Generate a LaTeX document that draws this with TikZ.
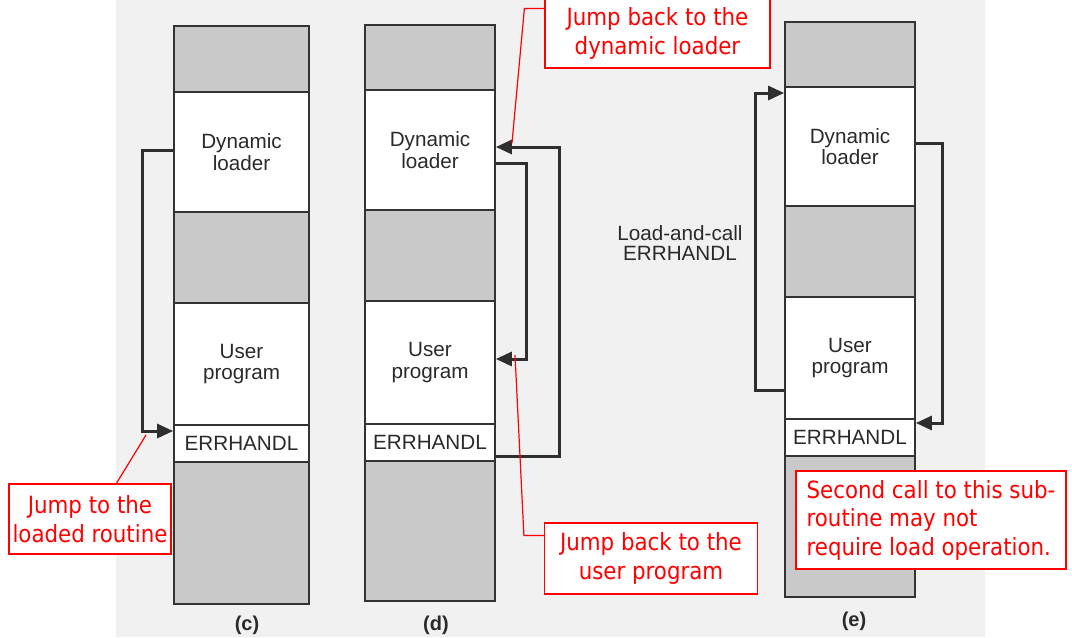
\documentclass[tikz,border=0pt]{standalone}
\usepackage{fontspec}
\setmainfont{Liberation Sans}
\newfontfamily\callfont{DejaVu Sans Condensed}
\usetikzlibrary{calc,arrows.meta}
\definecolor{bgc}{HTML}{F1F1F1}
\definecolor{fillc}{HTML}{C9C9C9}
\definecolor{linec}{HTML}{333333}
\definecolor{textc}{HTML}{2A2A2A}
\definecolor{arrc}{HTML}{2E2E2E}
\begin{document}
\begin{tikzpicture}[x=0.75pt,y=-0.75pt,
  col/.style={draw=linec, line width=1.3pt, inner sep=0pt, align=center,
    font=\fontsize{15.5}{16}\selectfont, text=textc},
  gseg/.style={col, fill=fillc},
  wseg/.style={col, fill=white},
  cwide/.style={minimum width=101.25pt},
  cnarrow/.style={minimum width=97.5pt},
  arr/.style={draw=arrc, line width=2.25pt, line join=miter,
    -{Triangle[length=12pt,width=10.5pt]}},
  collabel/.style={font=\bfseries\fontsize{15}{16}\selectfont, text=textc},
  callout/.style={draw=red, line width=0.9pt, fill=white, text=red, inner sep=0pt,
    font=\callfont\fontsize{17.8}{21.4}\selectfont},
  redline/.style={draw=red, line width=0.9pt}
]
\useasboundingbox (0,0) rectangle (1072,637);
\fill[white] (0,0) rectangle (1072,637);
\fill[bgc] (116,0) rectangle (985,637);

% column (c)
\node[gseg,cwide,minimum height=49.5pt]  (c1) at (241.5,59) {};
\node[wseg,cwide,minimum height=90pt]    (c2) at (241.5,152) {Dynamic\\loader};
\node[gseg,cwide,minimum height=68.25pt] (c3) at (241.5,257.5) {};
\node[wseg,cwide,minimum height=91.5pt]  (c4) at (241.5,364) {User\\program};
\node[wseg,cwide,minimum height=27.75pt] (c5) at (241.5,443.5) {ERRHANDL};
\node[gseg,cwide,minimum height=106.5pt] (c6) at (241.5,533) {};
\node[collabel] (lc) at (247,625) {(c)};

% column (d)
\node[gseg,cnarrow,minimum height=48.75pt] (d1) at (430,57.5) {};
\node[wseg,cnarrow,minimum height=90pt]    (d2) at (430,150) {Dynamic\\loader};
\node[gseg,cnarrow,minimum height=68.25pt] (d3) at (430,255.5) {};
\node[wseg,cnarrow,minimum height=92.25pt] (d4) at (430,362.5) {User\\program};
\node[wseg,cnarrow,minimum height=27.75pt] (d5) at (430,442.5) {ERRHANDL};
\node[gseg,cnarrow,minimum height=105pt]   (d6) at (430,531) {};
\node[collabel] (ld) at (436,625) {(d)};

% column (e)
\node[gseg,cnarrow,minimum height=48.75pt] (e1) at (850,54.5) {};
\node[wseg,cnarrow,minimum height=89.25pt] (e2) at (850,146.5) {Dynamic\\loader};
\node[gseg,cnarrow,minimum height=68.25pt] (e3) at (850,251.5) {};
\node[wseg,cnarrow,minimum height=91.5pt]  (e4) at (850,358) {User\\program};
\node[wseg,cnarrow,minimum height=27.75pt] (e5) at (850,437.5) {ERRHANDL};
\node[gseg,cnarrow,minimum height=105.75pt] (e6) at (850,526.5) {};
\node[collabel] (le) at (854,621) {(e)};

\node[align=center, text=textc, font=\fontsize{15.5}{15.5}\selectfont] (lcall) at (680,243) {Load-and-call\\ERRHANDL};

% arrows
\draw[arr] ($(c2.west)+(0,-2)$) -- ++(-31,0) |- ($(c5.west)+(0,-12.5)$);
\draw[arr] ($(d5.east)+(0,13.5)$) -- ++(64,0) |- ($(d2.east)+(0,-3)$);
\draw[arr] ($(d2.east)+(0,13)$) -- ++(31,0) |- ($(d4.east)+(0,-3.5)$);
\draw[arr] ($(e4.west)+(0,32)$) -- ++(-29,0) |- ($(e2.west)+(0,-53.5)$);
\draw[arr] ($(e2.east)+(0,-3.5)$) -- ++(27,0) |- ($(e5.east)+(0,-14.5)$);

% callouts
\node[callout, align=center, minimum width=168.75pt, minimum height=51.75pt] (b1) at (657.5,33.5) {Jump back to the\\dynamic loader};
\node[callout, align=center, minimum width=121.5pt, minimum height=52.5pt] (b2) at (90,519) {Jump to the\\loaded routine};
\node[callout, align=center, minimum width=159.75pt, minimum height=53.25pt] (b3) at (651,558.5) {Jump back to the\\user program};
\node[callout, align=left, minimum width=202.5pt, minimum height=73.5pt] (b4) at (931,520) {Second call to this sub-\\routine may not\\require load operation.};

\coordinate (t1) at (512,143);
\coordinate (t2) at (146,435);
\coordinate (t3) at (515,355);
\draw[redline] ($(b1.north west)+(0,10)$) -- ++(-20,0) -- (t1);
\draw[redline] ($(b2.north west)+(108,0)$) -- (t2);
\draw[redline] ($(b3.north west)+(0,13)$) -- ++(-20,0) -- (t3);
\end{tikzpicture}
\end{document}
